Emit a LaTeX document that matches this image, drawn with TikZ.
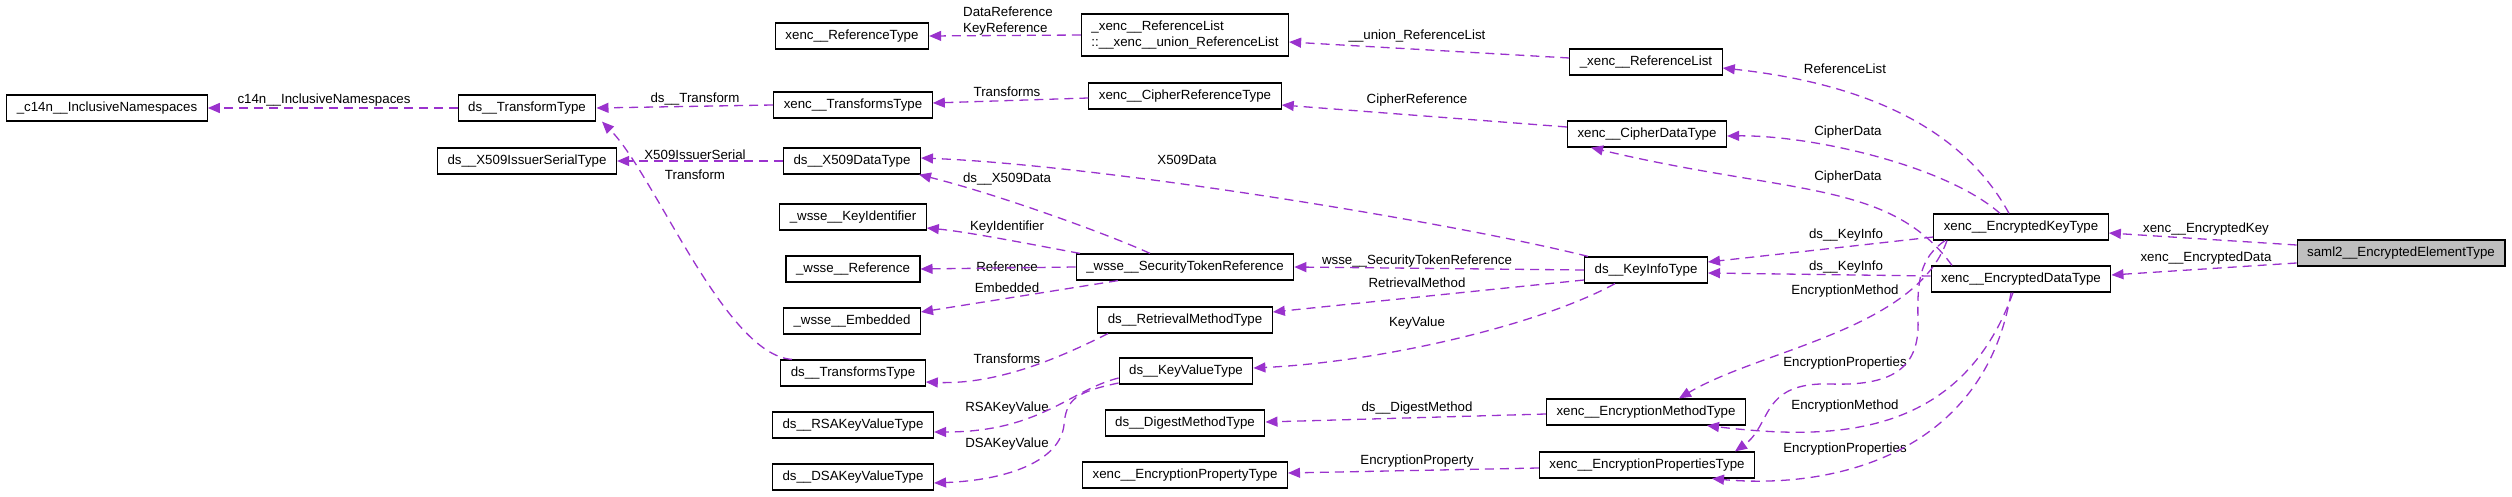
\documentclass[tikz,border=0pt]{standalone}
\usepackage{fontspec}
\setmainfont{Liberation Sans}
\usetikzlibrary{arrows.meta}
\definecolor{edgepurple}{HTML}{9A32CD}
\definecolor{boxgray}{HTML}{BFBFBF}
\tikzset{
    basebox/.style={rectangle, draw=black, fill=white, line width=1.2pt, inner xsep=10pt, font=\fontsize{13.3}{16}\selectfont},
    block/.style={basebox, minimum height=26pt, inner ysep=0pt, text height=9.5pt, text depth=3pt},
    mainblock/.style={block, fill=boxgray},
    listblock/.style={basebox, align=left, minimum height=42pt, inner ysep=4pt},
    arrow/.style={draw=edgepurple, line width=1.3pt, dash pattern=on 9pt off 6pt, -{Triangle[length=12pt, width=10pt]}},
    edgelabel/.style={inner sep=0pt, font=\fontsize{13.3}{16}\selectfont}
}
\begin{document}
\begin{tikzpicture}[x=1pt, y=-1pt]
    \useasboundingbox (0,0) rectangle (2512,497);

    \node (c14n) [block] at (107,108) {\_c14n\_\_InclusiveNamespaces};
    \node (transform) [block] at (527,108) {ds\_\_TransformType};
    \node (issuer) [block] at (527,161) {ds\_\_X509IssuerSerialType};
    \node (reftype) [block] at (852,36) {xenc\_\_ReferenceType};
    \node (xtransforms) [block] at (853,105) {xenc\_\_TransformsType};
    \node (x509data) [block] at (852,161) {ds\_\_X509DataType};
    \node (keyident) [block] at (853,217) {\_wsse\_\_KeyIdentifier};
    \node (wsseref) [block] at (853,269) {\_wsse\_\_Reference};
    \node (embedded) [block] at (852,321) {\_wsse\_\_Embedded};
    \node (dstransforms) [block] at (853,373) {ds\_\_TransformsType};
    \node (rsa) [block] at (853,425) {ds\_\_RSAKeyValueType};
    \node (dsa) [block] at (853,477) {ds\_\_DSAKeyValueType};
    \node (union) [listblock] at (1185,35) {\_xenc\_\_ReferenceList\\::\_\_xenc\_\_union\_ReferenceList};
    \node (cipherref) [block] at (1185,96) {xenc\_\_CipherReferenceType};
    \node (str) [block] at (1185,267) {\_wsse\_\_SecurityTokenReference};
    \node (retrieval) [block] at (1185,320) {ds\_\_RetrievalMethodType};
    \node (keyvalue) [block] at (1186,371) {ds\_\_KeyValueType};
    \node (digest) [block] at (1185,423) {ds\_\_DigestMethodType};
    \node (encprop) [block] at (1185,475) {xenc\_\_EncryptionPropertyType};
    \node (reflist) [block] at (1646,62) {\_xenc\_\_ReferenceList};
    \node (cipherdata) [block] at (1647,134) {xenc\_\_CipherDataType};
    \node (keyinfo) [block] at (1646,270) {ds\_\_KeyInfoType};
    \node (encmethod) [block] at (1646,412) {xenc\_\_EncryptionMethodType};
    \node (encprops) [block] at (1647,465) {xenc\_\_EncryptionPropertiesType};
    \node (enckey) [block] at (2021,227) {xenc\_\_EncryptedKeyType};
    \node (encdata) [block] at (2021,279) {xenc\_\_EncryptedDataType};
    \node (saml) [mainblock] at (2401,253) {saml2\_\_EncryptedElementType};

    \node (lc14n) [edgelabel] at (324,100) {c14n\_\_InclusiveNamespaces};
    \node (ltransformds) [edgelabel] at (695,99) {ds\_\_Transform};
    \node (lissuer) [edgelabel] at (695,155) {X509IssuerSerial};
    \node (ltransform) [edgelabel] at (695,175) {Transform};
    \node (lreference) [edgelabel, anchor=west, align=left] at (963,21) {DataReference\\KeyReference};
    \node (ltransformsup) [edgelabel] at (1007,92) {Transforms};
    \node (lx509ds) [edgelabel] at (1007,179) {ds\_\_X509Data};
    \node (lkeyident) [edgelabel] at (1007,227) {KeyIdentifier};
    \node (lwsseref) [edgelabel] at (1007,267) {Reference};
    \node (lembedded) [edgelabel] at (1007,288) {Embedded};
    \node (ltransformsdown) [edgelabel] at (1007,359) {Transforms};
    \node (lrsa) [edgelabel] at (1007,408) {RSAKeyValue};
    \node (ldsa) [edgelabel] at (1007,444) {DSAKeyValue};
    \node (lx509) [edgelabel] at (1187,160) {X509Data};
    \node (lunion) [edgelabel] at (1417,36) {\_\_union\_ReferenceList};
    \node (lcipherref) [edgelabel] at (1417,100) {CipherReference};
    \node (lstr) [edgelabel] at (1417,261) {wsse\_\_SecurityTokenReference};
    \node (lretrieval) [edgelabel] at (1417,283) {RetrievalMethod};
    \node (lkeyvalue) [edgelabel] at (1417,323) {KeyValue};
    \node (ldigest) [edgelabel] at (1417,408) {ds\_\_DigestMethod};
    \node (lencprop) [edgelabel] at (1417,461) {EncryptionProperty};
    \node (lreflist) [edgelabel] at (1845,69) {ReferenceList};
    \node (lcipherkey) [edgelabel] at (1848,132) {CipherData};
    \node (lcipherdata) [edgelabel] at (1848,177) {CipherData};
    \node (lkeyinfokey) [edgelabel] at (1846,235) {ds\_\_KeyInfo};
    \node (lkeyinfodata) [edgelabel] at (1846,267) {ds\_\_KeyInfo};
    \node (lmethodkey) [edgelabel] at (1845,291) {EncryptionMethod};
    \node (lpropskey) [edgelabel] at (1845,363) {EncryptionProperties};
    \node (lmethoddata) [edgelabel] at (1845,406) {EncryptionMethod};
    \node (lpropsdata) [edgelabel] at (1845,449) {EncryptionProperties};
    \node (lenckey) [edgelabel] at (2206,229) {xenc\_\_EncryptedKey};
    \node (lencdata) [edgelabel] at (2206,258) {xenc\_\_EncryptedData};

    \draw [arrow] ([yshift=8pt]saml.west) -- ([yshift=-6pt]enckey.east);
    \draw [arrow] ([yshift=-10pt]saml.west) -- ([yshift=4pt]encdata.east);
    \draw [arrow] ([xshift=-12pt]enckey.north) .. controls (1954,112) and (1833,80) .. ([yshift=-6pt]reflist.east);
    \draw [arrow] ([xshift=-21pt]enckey.north) .. controls (1945,165) and (1810,135) .. ([yshift=-2pt]cipherdata.east);
    \draw [arrow] ([xshift=-69pt]encdata.north) .. controls (1890,180) and (1790,195) .. ([xshift=-56pt]cipherdata.south);
    \draw [arrow] ([yshift=-10pt]enckey.west) .. controls (1880,243) and (1790,253) .. ([yshift=8pt]keyinfo.east);
    \draw [arrow] ([yshift=3pt]encdata.west) -- ([yshift=-3pt]keyinfo.east);
    \draw [arrow] ([xshift=-74pt]enckey.south) .. controls (1915,330) and (1760,350) .. ([xshift=33pt]encmethod.north);
    \draw [arrow] ([xshift=-76pt]enckey.south) .. controls (1920,258) and (1917,280) .. (1918,320) .. controls (1920,370) and (1890,386) .. (1830,384) .. controls (1760,382) and (1772,425) .. ([xshift=88pt]encprops.north);
    \draw [arrow] ([xshift=-8pt]encdata.south) .. controls (1960,440) and (1830,440) .. ([xshift=61pt]encmethod.south);
    \draw [arrow] ([xshift=-10pt]encdata.south) .. controls (1985,450) and (1840,490) .. ([xshift=65pt]encprops.south);
    \draw [arrow] ([yshift=4pt]reflist.west) -- ([yshift=-7pt]union.east);
    \draw [arrow] (union.west) -- (reftype.east);
    \draw [arrow] ([yshift=7pt]cipherdata.west) -- ([yshift=-9pt]cipherref.east);
    \draw [arrow] ([yshift=-2pt]cipherref.west) -- ([yshift=2pt]xtransforms.east);
    \draw [arrow] (xtransforms.west) -- (transform.east);
    \draw [arrow] (transform.west) -- (c14n.east);
    \draw [arrow] ([xshift=-61pt]dstransforms.north) .. controls (725,355) and (655,175) .. ([xshift=75pt]transform.south);
    \draw [arrow] (x509data.west) -- (issuer.east);
    \draw [arrow] ([xshift=-58pt]keyinfo.north) .. controls (1450,222) and (1100,165) .. ([yshift=3pt]x509data.east);
    \draw [arrow] ([xshift=-35pt]str.north) .. controls (1110,235) and (1000,195) .. ([xshift=-2pt]x509data.south east);
    \draw [arrow] ([xshift=-105pt]str.north) .. controls (1050,248) and (970,232) .. ([yshift=-11pt]keyident.east);
    \draw [arrow] (str.west) -- (wsseref.east);
    \draw [arrow] ([xshift=-67pt]str.south) -- ([yshift=9pt]embedded.east);
    \draw [arrow] (keyinfo.west) -- (str.east);
    \draw [arrow] ([yshift=-10pt]keyinfo.west) -- ([yshift=8pt]retrieval.east);
    \draw [arrow] ([xshift=-31pt]keyinfo.south) .. controls (1540,325) and (1380,362) .. ([yshift=3pt]keyvalue.east);
    \draw [arrow] ([xshift=-77pt]retrieval.south) .. controls (1065,355) and (1000,385) .. ([yshift=-9pt]dstransforms.east);
    \draw [arrow] ([yshift=-7pt]keyvalue.west) .. controls (1070,390) and (1040,432) .. ([yshift=-7pt]rsa.east);
    \draw [arrow] ([yshift=-12pt]keyvalue.west) .. controls (1075,392) and (1066,400) .. (1064,425) .. controls (1060,460) and (1010,480) .. ([yshift=-6pt]dsa.east);
    \draw [arrow] ([yshift=-2pt]encmethod.west) -- ([yshift=1pt]digest.east);
    \draw [arrow] ([yshift=-3pt]encprops.west) -- ([yshift=2pt]encprop.east);
\end{tikzpicture}
\end{document}
